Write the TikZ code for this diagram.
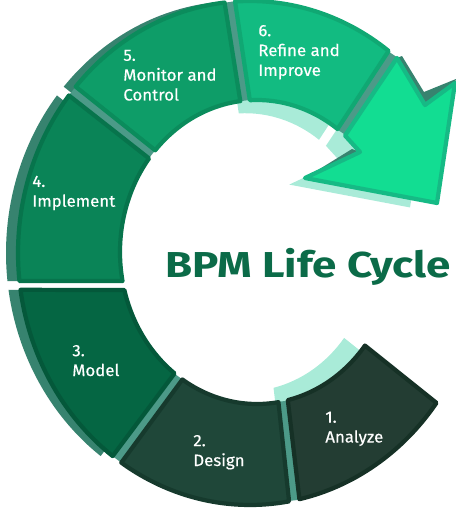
\documentclass[tikz,border=0pt]{standalone}
\usepackage{fontspec}
\setmainfont{Fira Sans}
\newfontfamily\steplabelfont{Fira Sans}[FakeBold=0.4, FakeStretch=1.03]
\newfontfamily\titlefont{Fira Sans}[FakeStretch=1.22]
\definecolor{analyzegreen}{HTML}{233D33}
\definecolor{analyzeedge}{HTML}{163126}
\definecolor{designgreen}{HTML}{1F4739}
\definecolor{designedge}{HTML}{163A2D}
\definecolor{modelgreen}{HTML}{056643}
\definecolor{modeledge}{HTML}{04583A}
\definecolor{implementgreen}{HTML}{0A8457}
\definecolor{implementedge}{HTML}{07744C}
\definecolor{monitorgreen}{HTML}{0E9D68}
\definecolor{monitoredge}{HTML}{0B8C5C}
\definecolor{refinegreen}{HTML}{12BB81}
\definecolor{refineedge}{HTML}{10A873}
\definecolor{arrowgreen}{HTML}{12DD92}
\definecolor{arrowedge}{HTML}{16BA85}
\definecolor{wallmint}{HTML}{A9EBD8}
\definecolor{wallteal}{HTML}{37836F}
\definecolor{septeal}{HTML}{4C9A88}
\definecolor{titlegreen}{HTML}{0B6B48}

\tikzset{
  segface/.style 2 args={fill=#1, draw=#2, line width=2.4pt, line join=round},
  sepline/.style={draw=septeal, line width=6pt},
  steplabel/.style={text=white, font=\steplabelfont\fontsize{9.3}{11.3}\selectfont, align=left, anchor=north west, inner sep=0pt},
  titletext/.style={text=titlegreen, font=\titlefont\fontsize{20.5}{24}\selectfont\bfseries, anchor=base west, inner sep=0pt},
}

% one piece of the ring: style, outer from/to, inner from/to
\newcommand{\ringseg}[5]{\path[#1] ([shift={(#2:232 and 252)}]250,259) arc[start angle=#2, end angle=#3, x radius=232, y radius=252] -- ([shift={(#5:137 and 152)}]257,260) arc[start angle=#5, end angle=#4, x radius=137, y radius=152] -- cycle;}
% the arrow at the end of the ring
\newcommand{\cyclearrow}[1]{\path[#1] ([shift={(50.7:232 and 252)}]250,259) -- (425,407) -- (455,429) -- (437,309) -- (305,334) -- (360,360) -- ([shift={(50:137 and 152)}]257,260) -- cycle;}

\begin{document}
\begin{tikzpicture}[x=0.02cm, y=0.02cm]
\useasboundingbox (0,0) rectangle (456,512);

% walls seen through the hole
\begin{scope}[shift={(10.2,21.8)}, scale=0.915]
  \ringseg{fill=wallmint}{-77.7}{-36.5}{-77}{-38}
  \ringseg{fill=wallmint}{53.3}{93.7}{54}{93}
  \cyclearrow{fill=wallmint}
\end{scope}
% outer wall on the left
\begin{scope}[shift={(-12,0)}]
  \ringseg{fill=wallteal}{-171.6}{-126.3}{-165.5}{-127}
  \ringseg{fill=wallteal}{141.3}{186.4}{142}{191}
  \ringseg{fill=wallteal}{96.3}{138.7}{97}{138}
\end{scope}
\fill[wallteal] (396.9,454) -- (402,456) -- (424,420) -- (456,433) -- (455,429) -- (425,407) -- cycle;
\fill[wallteal] (305,334) -- (360,360) -- (352,363) -- cycle;

% gaps between the steps
\foreach \t in {-79,-125,140,95,52}
  \draw[sepline] ([shift={(\t:137 and 152)}]257,260) -- ([shift={(\t:232 and 252)}]250,259);

% the steps
\ringseg{segface={analyzegreen}{analyzeedge}}{-77.7}{-36.5}{-77}{-38}
\ringseg{segface={designgreen}{designedge}}{-123.7}{-80.3}{-123}{-81}
\ringseg{segface={modelgreen}{modeledge}}{-171.6}{-126.3}{-165.5}{-127}
\ringseg{segface={implementgreen}{implementedge}}{141.3}{186.4}{142}{191}
\ringseg{segface={monitorgreen}{monitoredge}}{96.3}{138.7}{97}{138}
\ringseg{segface={refinegreen}{refineedge}}{53.3}{93.7}{54}{93}
\cyclearrow{segface={arrowgreen}{arrowedge}}

\node[steplabel] (analyze) at (325,100.6) {1.\\Analyze};
\node[steplabel] (design) at (193,77.3) {2.\\Design};
\node[steplabel] (model) at (72,167.3) {3.\\Model};
\node[steplabel] (implement) at (32,336.6) {4.\\Implement};
\node[steplabel] (monitor) at (123,462.5) {5.\\Monitor and\\Control};
\node[steplabel] (refine) at (258,487.3) {6.\\Refine and\\Improve};

\node[titletext] (title) at (165,234.7) {BPM Life Cycle};
\end{tikzpicture}
\end{document}
